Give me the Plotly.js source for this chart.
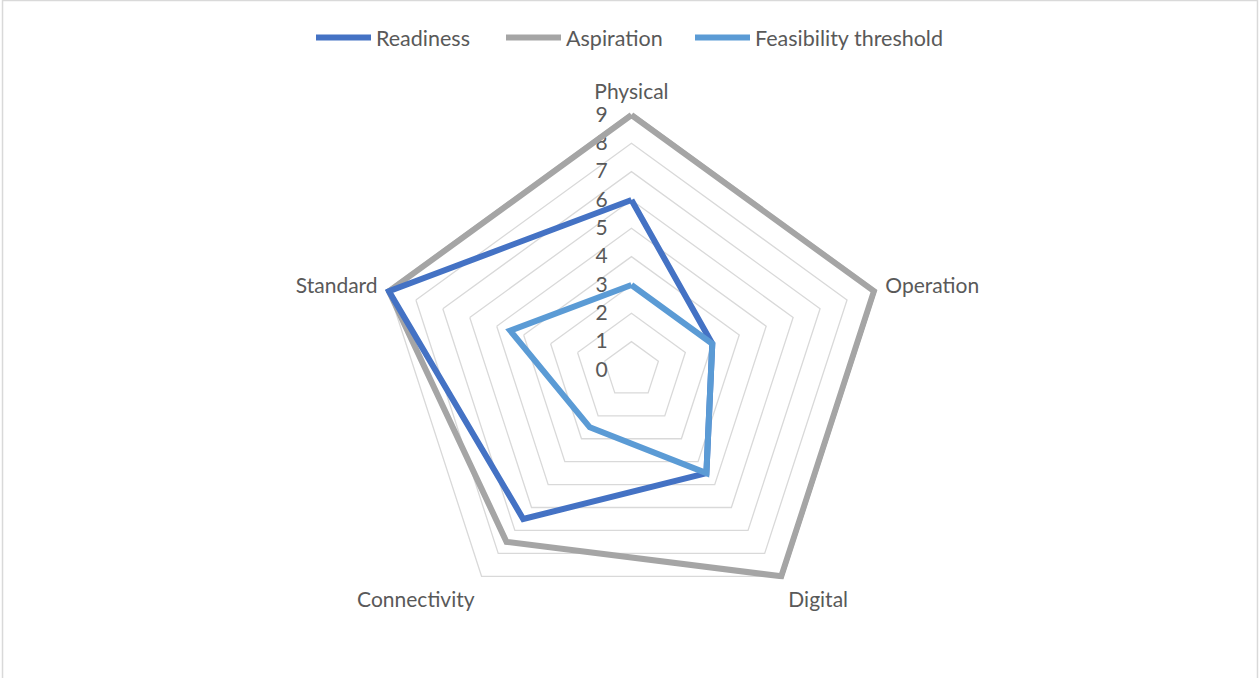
<!DOCTYPE html>
<html>
<head>
<meta charset="utf-8">
<script src="https://cdn.plot.ly/plotly-3.0.1.min.js"></script>
<style>html,body{margin:0;padding:0;background:#fff;}#chart{width:1260px;height:678px;}</style>
</head>
<body>
<div id="chart"></div>
<script>
const categories = ["Physical", "Operation", "Digital", "Connectivity", "Standard"];
const readiness = [6, 3, 4.5, 6.5, 9];
const aspiration = [9, 9, 9, 7.5, 9];
const feasibility = [3, 3, 4.5, 2.5, 4.5];
const radialTicks = [0, 1, 2, 3, 4, 5, 6, 7, 8, 9];

function closed(a) { return a.concat([a[0]]); }
const theta = closed(categories);

const FONT = "Lato, 'Open Sans', sans-serif";
const TXT = "#595959";

const traces = [
  {type: "scatterpolar", mode: "lines", name: "Aspiration", r: closed(aspiration), theta: theta,
   line: {color: "#A5A5A5", width: 6}, legend: "legend2"},
  {type: "scatterpolar", mode: "lines", name: "Readiness", r: closed(readiness), theta: theta,
   line: {color: "#4472C4", width: 6}, legend: "legend"},
  {type: "scatterpolar", mode: "lines", name: "Feasibility threshold", r: closed(feasibility), theta: theta,
   line: {color: "#5B9BD5", width: 6}, legend: "legend3"}
];

function leg(xpx) {
  return {orientation: "h", x: xpx / 1260, xanchor: "left", y: 0.975, yanchor: "top",
          font: {family: FONT, size: 21.5, color: TXT}, itemwidth: 55, bgcolor: "rgba(0,0,0,0)"};
}

const layout = {
  width: 1260, height: 678,
  margin: {l: 0, r: 0, t: 0, b: 0},
  paper_bgcolor: "#ffffff",
  font: {family: FONT, size: 21, color: TXT},
  showlegend: true,
  legend: leg(311),
  legend2: leg(501),
  legend3: leg(690),
  polar: {
    domain: {x: [0.2954, 0.7069], y: [0.0719, 0.8367]},
    bgcolor: "rgba(0,0,0,0)",
    gridshape: "linear",
    angularaxis: {
      direction: "clockwise", rotation: 90, layer: "below traces",
      showgrid: false, showline: false,
      ticks: "outside", ticklen: 3, tickcolor: "rgba(0,0,0,0)",
      tickfont: {family: FONT, size: 21, color: TXT}
    },
    radialaxis: {
      range: [0, 9.15], tickvals: radialTicks, ticktext: radialTicks.map(String),
      angle: 90, side: "counterclockwise", showline: false, layer: "below traces",
      gridcolor: "#d9d9d9", gridwidth: 1.3,
      ticks: "outside", ticklen: 16, tickcolor: "rgba(0,0,0,0)",
      tickangle: 90,
      tickfont: {family: FONT, size: 21, color: TXT}
    }
  },
  shapes: [
    {type: "path", xref: "paper", yref: "paper",
     path: "M 0.002,0 L 0.002,0.9993 L 0.998,0.9993 L 0.998,0",
     line: {color: "#d9d9d9", width: 1.5}}
  ]
};

Plotly.newPlot("chart", traces, layout, {displayModeBar: false, staticPlot: true});
</script>
</body>
</html>
